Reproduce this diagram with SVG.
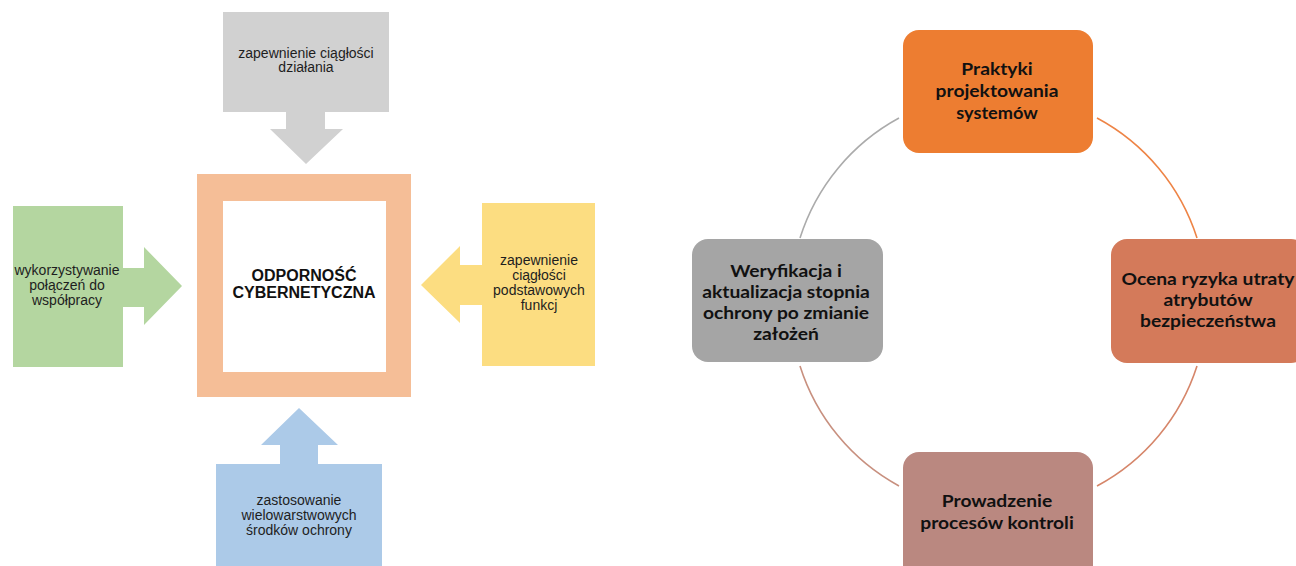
<svg xmlns="http://www.w3.org/2000/svg" width="1296" height="566" viewBox="0 0 1296 566">
<style>
.lt{font-family:"Liberation Sans",Arial,sans-serif;font-size:14px;fill:#1e1e1e;text-anchor:middle}
.ct{font-family:"Liberation Sans",Arial,sans-serif;font-size:16px;font-weight:bold;fill:#111;text-anchor:middle}
.rt{font-family:Lato,"Noto Sans",sans-serif;font-size:17.5px;font-weight:bold;fill:#111;text-anchor:middle}
.arc{fill:none;stroke-width:1.6}
</style>
<rect width="1296" height="566" fill="#ffffff"/>
<g id="center">
<path d="M197 174H411V397H197Z M223 201V372H386V201Z" fill="#F5BE97" fill-rule="evenodd"/>
<text class="ct" x="304" y="281">ODPORNOŚĆ</text>
<text class="ct" x="304" y="298">CYBERNETYCZNA</text>
</g>
<g id="top-input">
<path d="M223 12H389V112H325V129H343L306 164L270 129H286V112H223Z" fill="#D1D1D1"/>
<text class="lt" x="306" y="58">zapewnienie ciągłości</text>
<text class="lt" x="306" y="72">działania</text>
</g>
<g id="left-input">
<path d="M13 206H123V268H144V247L182 286L144 325V307H123V367H13Z" fill="#B4D6A0"/>
<text class="lt" x="67" y="275">wykorzystywanie</text>
<text class="lt" x="67" y="290">połączeń do</text>
<text class="lt" x="67" y="305">współpracy</text>
</g>
<g id="right-input">
<path d="M482 203H595V366H482V305H460V323L421 285L460 246V265H482Z" fill="#FCDD81"/>
<text class="lt" x="539" y="265">zapewnienie</text>
<text class="lt" x="539" y="280">ciągłości</text>
<text class="lt" x="539" y="295">podstawowych</text>
<text class="lt" x="539" y="310">funkcj</text>
</g>
<g id="bottom-input">
<path d="M216 464H280V445H261L299 408L338 445H318V464H382V570H216Z" fill="#ACCAE8"/>
<text class="lt" x="299" y="505">zastosowanie</text>
<text class="lt" x="299" y="520">wielowarstwowych</text>
<text class="lt" x="299" y="535">środków ochrony</text>
</g>
<g id="connectors">
<path class="arc" d="M899 118A208 208 0 0 0 800 238" stroke="#ABABAB"/>
<path class="arc" d="M1097 118A208 208 0 0 1 1197 238" stroke="#EE8446"/>
<path class="arc" d="M1197 366A208 208 0 0 1 1097 486" stroke="#D6866A"/>
<path class="arc" d="M899 486A208 208 0 0 1 800 366" stroke="#C8907F"/>
</g>
<g id="node-praktyki">
<rect x="903" y="30" width="190" height="123" rx="16" fill="#ED7D31"/>
<g transform="translate(997 0) scale(1.1 1)">
<text class="rt" x="0" y="75">Praktyki</text>
<text class="rt" x="0" y="97">projektowania</text>
<text class="rt" x="0" y="119" style="font-size:16.5px">systemów</text>
</g>
</g>
<g id="node-ocena">
<rect x="1111" y="239" width="196" height="124" rx="16" fill="#D47A5A"/>
<g transform="translate(1208 0) scale(1.1 1)">
<text class="rt" x="0" y="285">Ocena ryzyka utraty</text>
<text class="rt" x="0" y="306">atrybutów</text>
<text class="rt" x="0" y="327">bezpieczeństwa</text>
</g>
</g>
<g id="node-prowadzenie">
<rect x="903" y="452" width="190" height="130" rx="16" fill="#BA8880"/>
<g transform="translate(997 0) scale(1.1 1)">
<text class="rt" x="0" y="507">Prowadzenie</text>
<text class="rt" x="0" y="529">procesów kontroli</text>
</g>
</g>
<g id="node-weryfikacja">
<rect x="692" y="239" width="191" height="123" rx="16" fill="#A5A5A5"/>
<g transform="translate(786 0) scale(1.1 1)">
<text class="rt" x="0" y="277">Weryfikacja i</text>
<text class="rt" x="0" y="298">aktualizacja stopnia</text>
<text class="rt" x="0" y="319">ochrony po zmianie</text>
<text class="rt" x="0" y="340">założeń</text>
</g>
</g>
</svg>
